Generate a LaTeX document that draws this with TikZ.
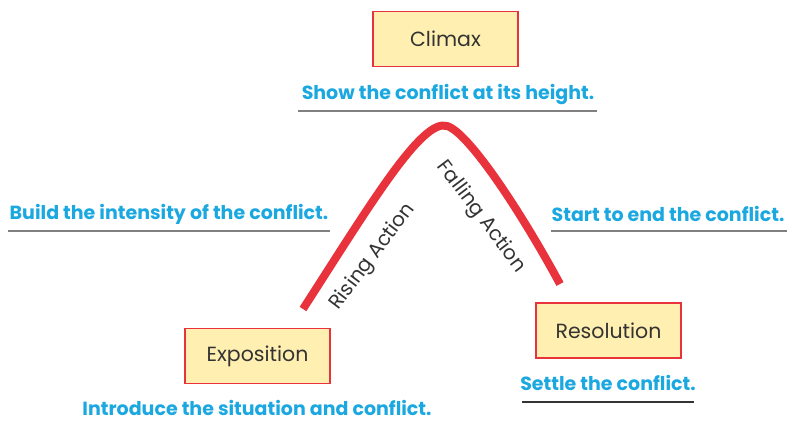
\documentclass[tikz,border=0pt]{standalone}
\usepackage{fontspec}
\setmainfont{Poppins}
\definecolor{boxfill}{HTML}{FFEFB0}
\definecolor{boxline}{HTML}{E8323C}
\definecolor{tipblue}{HTML}{1BA8E0}
\definecolor{textgray}{HTML}{333333}
\tikzset{
  stage/.style={draw=boxline,fill=boxfill,line width=1.4pt,minimum width=145pt,minimum height=55pt,
    inner sep=0pt,text=textgray,font=\fontsize{20.5}{24}\selectfont},
  tip/.style={text=tipblue,inner sep=0pt,font=\fontsize{19}{22}\selectfont\bfseries},
  rule/.style={draw=gray,line width=1.3pt},
  arc label/.style={text=textgray,inner sep=0pt,font=\fontsize{20}{24}\selectfont}
}
\begin{document}
\begin{tikzpicture}[x=1pt,y=-1pt]
		\useasboundingbox (0,0) rectangle (787,422);
		% stages
		\node[stage] (climax) at (445.5,39) {Climax};
		\node[stage] (expo) at (257.5,356) {Exposition};
		\node[stage] (reso) at (608.5,330.5) {Resolution};
		% descriptions
		\node[tip] (show) at (448,95) {Show the conflict at its height.};
		\node[tip] (build) at (169,214) {Build the intensity of the conflict.};
		\node[tip] (start) at (668,214) {Start to end the conflict.};
		\node[tip] (intro) at (257,408) {Introduce the situation and conflict.};
		\node[tip] (settle) at (608,383) {Settle the conflict.};
		% underlines
		\draw[rule] (298,111) -- (597,111);
		\draw[rule] (8,231) -- (330,231);
		\draw[rule] (551,231) -- (787,231);
		\draw[rule,draw=textgray] (522,402) -- (694,402);
		% the arc
		\coordinate (low left) at (303,309);
		\coordinate (peak) at (447,126);
		\coordinate (low right) at (560,284);
		\draw[boxline,line width=8pt] (low left) .. controls (370,205) and (422,118) .. (peak)
			.. controls (468,132) and (520,210) .. (low right);
		\node[arc label,rotate=53] (rising) at (373,257) {Rising Action};
		\node[arc label,rotate=-53] (falling) at (481,217) {Falling Action};
		\end{tikzpicture}
\end{document}
